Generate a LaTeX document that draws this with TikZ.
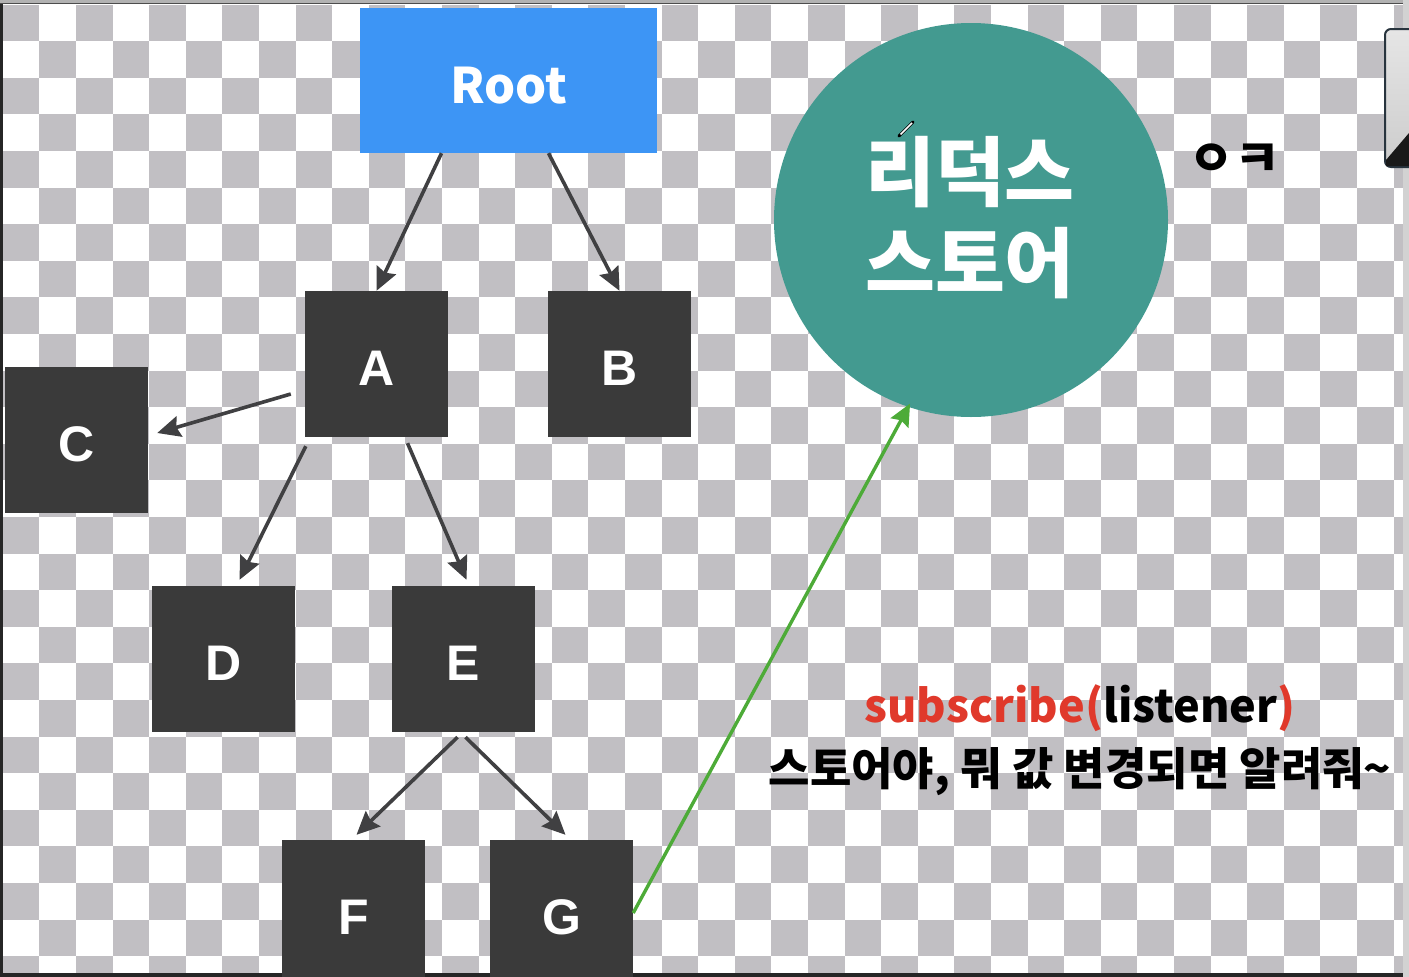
\documentclass[tikz,border=0pt]{standalone}
\usepackage{fontspec}
\setmainfont{Liberation Sans}
\newfontfamily\kr{Noto Sans CJK KR}
\usetikzlibrary{arrows.meta}
\definecolor{chk}{RGB}{193,191,195}
\definecolor{rootblue}{RGB}{61,149,245}
\definecolor{boxdark}{RGB}{58,58,58}
\definecolor{teal}{RGB}{67,154,144}
\definecolor{arrgray}{RGB}{64,64,66}
\definecolor{subred}{RGB}{224,57,43}
\definecolor{grn}{RGB}{77,171,56}
\tikzset{
  darkbox/.style={rectangle, fill=boxdark, minimum width=143pt, minimum height=146pt, inner sep=0pt,
    text=white, font=\bfseries\fontsize{50}{60}\selectfont, text height=43pt, text depth=0pt},
  treearrow/.style={draw=arrgray, line width=3.6pt, -{Stealth[length=23pt,width=21pt,inset=3pt]}},
  greenarrow/.style={draw=grn, line width=3.4pt, -{Stealth[length=22pt,width=20pt,inset=3pt]}},
}
\begin{document}
\begin{tikzpicture}[x=1pt,y=-1pt]
\useasboundingbox (0,0) rectangle (1409,977);
\clip (0,0) rectangle (1409,977);
% background checkerboard
\fill[white] (0,0) rectangle (1409,977);
\foreach \i in {0,...,38}{
  \foreach \j in {0,...,26}{
    \pgfmathtruncatemacro{\cpar}{mod(\i+\j,2)}
    \ifnum\cpar=0
      \fill[chk] ({2.7+\i*36.6},{4.6+\j*36.6}) rectangle ++(36.6,36.6);
    \fi
  }
}
% frame
\fill[black!85] (0,0) rectangle (3,977);
\fill[gray!60] (0,0) rectangle (1409,4);
\fill[black!70] (0,3.4) rectangle (1409,4.4);
\fill[black!85] (0,972.5) rectangle (1409,977);
\fill[gray!35] (1403,0) rectangle (1409,977);
% thumbnail top right
\draw[draw={rgb,255:red,40;green,52;blue,62}, line width=2pt, rounded corners=6pt,
  top color=gray!20, bottom color=gray!40] (1385,29) rectangle (1420,167);
\fill[black!90] (1386,160) -- (1409,133) -- (1409,166) -- (1386,166) -- cycle;

% nodes
\node[rectangle, fill=rootblue, minimum width=297pt, minimum height=145pt, inner sep=0pt,
  text=white, font=\kr\bfseries\fontsize{49}{60}\selectfont, text height=46pt, text depth=0pt] (root) at (508.5,80.5) {Root};
\node[darkbox] (A) at (376.5,364) {A};
\node[darkbox] (B) at (619.5,364) {B};
\node[darkbox] (C) at (76.5,440) {C};
\node[darkbox] (D) at (223.5,659) {D};
\node[darkbox] (E) at (463.5,659) {E};
\node[darkbox] (F) at (353.5,913) {F};
\node[darkbox] (G) at (561.5,913) {G};
\node[circle, fill=teal, minimum size=394pt, inner sep=0pt] (store) at (971,220) {};
\node[text=white, font=\kr\bfseries\fontsize{76}{91}\selectfont, align=center] (storelabel) at (970,218) {리덕스\\스토어};
\node[font=\kr\bfseries\fontsize{50}{50}\selectfont] (ok) at (1234,160) {ㅇㅋ};
\node[font=\kr\bfseries\fontsize{45}{60}\selectfont] (sub) at (1080,708)
  {\textcolor{subred}{subscribe(}listener\textcolor{subred}{)}};
\node[font=\kr\bfseries\fontsize{45}{50}\selectfont] (msg) at (1080,772) {스토어야, 뭐 값 변경되면 알려줘{\char"007E}};

% pencil cursor
\draw[black, line width=3pt, line cap=round] (899,136) -- (913,122);
\draw[white, line width=1.6pt] (900.5,134.5) -- (912,123);

% arrows
\draw[treearrow] ([xshift=-67pt]root.south) -- (A.north);
\draw[treearrow] ([xshift=40pt]root.south) -- (B.north);
\draw[treearrow] ([shift={(-14,30)}]A.west) -- ([shift={(9,-7)}]C.east);
\draw[treearrow] ([shift={(1,9)}]A.south west) -- ([shift={(16,-6)}]D.north);
\draw[treearrow] ([shift={(31,6)}]A.south) -- ([shift={(3,-6)}]E.north);
\draw[treearrow] ([shift={(-6,5)}]E.south) -- ([shift={(3,-5)}]F.north);
\draw[treearrow] ([shift={(2,5)}]E.south) -- ([shift={(4,-5)}]G.north);
\draw[greenarrow] (G.east) -- ([shift={(0,-4)}]store.252);
\end{tikzpicture}
\end{document}
